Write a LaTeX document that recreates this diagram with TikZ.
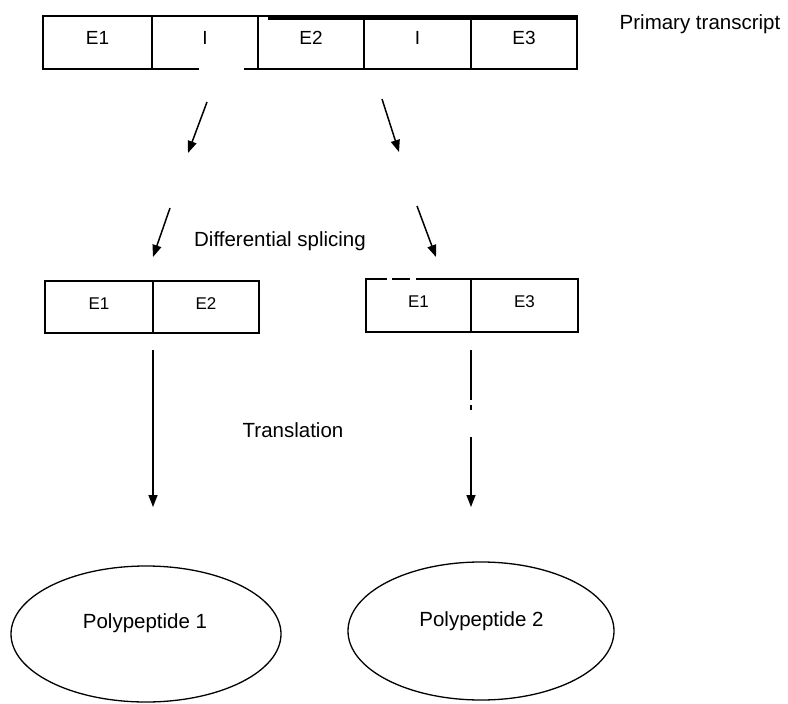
\documentclass[tikz,border=0pt]{standalone}
\usepackage{fontspec}
\setmainfont{Liberation Sans}
\usetikzlibrary{shapes.geometric,arrows.meta}
\begin{document}
\begin{tikzpicture}[x=1pt,y=-1pt,
  seg/.style={draw, line width=1.4pt, rectangle, inner sep=0pt, outer sep=0pt,
    font=\fontsize{19}{19}\selectfont, text height=14pt, text depth=10pt},
  segtop/.style={seg, minimum height=53pt},
  segbot/.style={seg, minimum height=52pt, font=\fontsize{17}{17}\selectfont},
  lbl/.style={inner sep=0pt, anchor=base, font=\fontsize{20.5}{20.5}\selectfont},
  arr/.style={line width=1.5pt, -{Triangle[length=12pt,width=9pt]}},
  gap/.style={white, line width=3pt},
  prot/.style={draw, ellipse, line width=1.3pt, inner sep=0pt}]
\useasboundingbox (0,0) rectangle (788,704);
\fill[white] (0,0) rectangle (788,704);

% primary transcript
\node[segtop, minimum width=109pt] (t1) at (97.5,42.5) {E1};
\node[segtop, minimum width=106pt] (t2) at (205,42.5) {I};
\node[segtop, minimum width=106pt] (t3) at (311,42.5) {E2};
\node[segtop, minimum width=107pt] (t4) at (417.5,42.5) {I};
\node[segtop, minimum width=106pt] (t5) at (524,42.5) {E3};
\draw[line width=3pt] ([xshift=10pt,yshift=-2.5pt]t3.north west) -- ([yshift=-2.5pt]t5.north east);
\draw[line width=2.8pt] (t1.north east) -- (t1.south east);
\draw[gap] ([xshift=-6pt]t2.south) -- ([xshift=39pt]t2.south);
\node[lbl] (ptx) at (700,30) {Primary transcript};

% splicing arrows
\coordinate (a1s) at (207,102); \coordinate (a1e) at (188,153);
\coordinate (a2s) at (382,99);  \coordinate (a2e) at (399,152);
\coordinate (a3s) at (170,208); \coordinate (a3e) at (153,257);
\coordinate (a4s) at (417,206); \coordinate (a4e) at (436,257);
\draw[arr] (a1s) -- (a1e);
\draw[arr] (a2s) -- (a2e);
\draw[arr] (a3s) -- (a3e);
\draw[arr] (a4s) -- (a4e);
\node[lbl] (dsp) at (280,246) {Differential splicing};

% spliced mRNAs
\node[segbot, minimum width=108pt] (m1) at (99,307) {E1};
\node[segbot, minimum width=106pt] (m2) at (206,307) {E2};
\node[segbot, minimum width=105pt, minimum height=53pt] (n1) at (418.5,305.5) {E1};
\node[segbot, minimum width=107pt, minimum height=53pt] (n2) at (524.5,305.5) {E3};
\draw[line width=2.6pt] (m1.north west) -- (m1.south west);
\draw[gap, line width=2pt] ([xshift=21pt]n1.north west) -- ([xshift=26pt]n1.north west);
\draw[gap, line width=2pt] ([xshift=44pt]n1.north west) -- ([xshift=50pt]n1.north west);

% translation arrows
\coordinate (v1s) at (153,350); \coordinate (v1e) at (153,507);
\coordinate (v2s) at (471,350); \coordinate (v2e) at (471,507);
\draw[arr] (v1s) -- (v1e);
\draw[arr, dash pattern=on 50pt off 5pt on 5pt off 27pt on 200pt] (v2s) -- (v2e);
\node[lbl] (trl) at (293,437) {Translation};

% polypeptides
\node[prot, minimum width=270pt, minimum height=136pt] (p1) at (146,634) {};
\node[prot, minimum width=266pt, minimum height=138pt] (p2) at (481,631) {};
\node[lbl] (p1t) at (145,628) {Polypeptide 1};
\node[lbl] (p2t) at (481.5,626) {Polypeptide 2};
\end{tikzpicture}
\end{document}
